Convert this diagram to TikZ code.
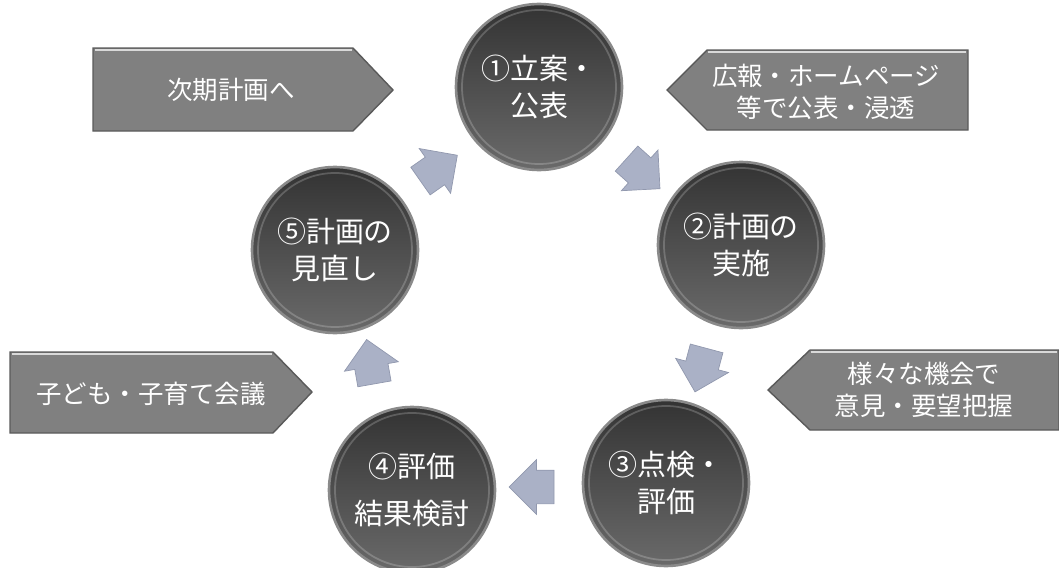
\documentclass[tikz,border=0pt]{standalone}
\usepackage{fontspec}
\setmainfont{Noto Sans CJK JP}
\usepackage{tikz}
\usetikzlibrary{shapes.arrows}
\definecolor{ballrim}{HTML}{8A8A8A}
\definecolor{balltop}{HTML}{333333}
\definecolor{ballbot}{HTML}{6A6A6A}
\definecolor{tagfill}{HTML}{808080}
\definecolor{tagedge}{HTML}{5A5A5A}
\definecolor{flowfill}{HTML}{AAB1C6}
\definecolor{flowedge}{HTML}{9198AE}
\tikzset{
  % dark ball = one step of the cycle
  stage/.style={circle, minimum size=3.32cm, inner sep=0pt,
                top color=balltop, bottom color=ballbot,
                draw=ballrim, line width=1.5pt, text=white, align=center,
                font=\fontsize{16.5}{21}\selectfont},
  % grey pentagon = side note
  tag/.style={fill=tagfill, draw=tagedge, line width=0.8pt},
  tagtext/.style={text=white, align=center, inner sep=0pt,
                  font=\fontsize{14.5}{18.5}\selectfont},
  % block arrow between two steps
  flow/.style={single arrow, fill=flowfill, draw=flowedge, line width=0.4pt,
               minimum height=0.9cm, inner xsep=0pt, inner ysep=0.33cm,
               single arrow head extend=0.21cm, rotate=#1},
}

\begin{document}
\begin{tikzpicture}[x=0.02cm,y=-0.02cm]
  \useasboundingbox (0,0) rectangle (1059,568);
  % side notes
  \draw[tag] (93,48) -- (353,48) -- (393,90) -- (353,131) -- (93,131) -- cycle;
  \draw[white!70!tagfill, line width=1pt] (95,50) -- (352,50);
  \node[tagtext] (next) at (231,90) {次期計画へ};
  \draw[tag] (667,90) -- (707,50) -- (968,50) -- (968,130) -- (707,130) -- cycle;
  \draw[white!70!tagfill, line width=1pt] (708,52) -- (966,52);
  \node[tagtext] (publish) at (826,92) {広報・ホームページ\\等で公表・浸透};
  \draw[tag] (10,352) -- (273,352) -- (312,392) -- (273,433) -- (10,433) -- cycle;
  \draw[white!70!tagfill, line width=1pt] (12,354) -- (272,354);
  \node[tagtext] (council) at (151,394) {子ども・子育て会議};
  \draw[tag] (768,390) -- (810,350) -- (1059,350) -- (1059,430) -- (810,430) -- cycle;
  \draw[white!70!tagfill, line width=1pt] (811,352) -- (1057,352);
  \node[tagtext] (opinion) at (924,390) {様々な機会で\\意見・要望把握};
  % the five steps
  \foreach \nm/\x/\y/\txt in {plan/539/87/{①立案・\\公表},
                              run/741/245/{②計画の\\実施},
                              check/666/483/{③点検・\\評価},
                              review/412/490/{④評価\\[6pt]結果検討},
                              redo/335/250/{⑤計画の\\見直し}} {
    \node[stage] (\nm) at (\x,\y) {\txt};
    \draw[white, opacity=0.2, line width=1pt] (\x,\y) circle[radius=77];
  }
  % arrows round the cycle
  \foreach \nm/\x/\y/\a in {toplan/432/173/35, torun/637/168/-42,
                            tocheck/703/362/-105, toreview/540/487/180,
                            toredo/372/370/100}
    \node[flow=\a] (\nm) at (\x,\y) {};
\end{tikzpicture}
\end{document}
